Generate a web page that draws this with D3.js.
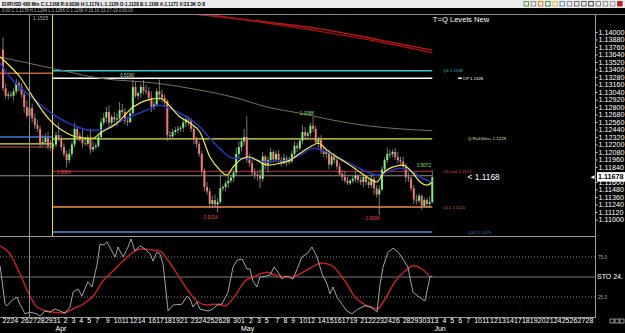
<!DOCTYPE html>
<html><head><meta charset="utf-8">
<script src="https://cdn.jsdelivr.net/npm/d3@7"></script>
<style>
html,body{margin:0;padding:0;background:#000;overflow:hidden}
svg{display:block;font-family:"Liberation Sans",Arial,sans-serif}
</style></head>
<body><div id="chart"></div>
<script>
const WIDTH = 625, HEIGHT = 333;

// ---- data (EURUSD 480 min bars, 22 Mar - 31 May) ----
const open = [1.1372,1.1310,1.1298, 1.1300, 1.1298,1.1305,1.1318, 1.1313,1.1300,1.1280, 1.1266,1.1278,1.1262,
  1.1251,1.1245,1.1222, 1.1224,1.1230,1.1218, 1.1217, 1.1220,1.1235,1.1230, 1.1216,1.1205,1.1195,
  1.1205,1.1220,1.1245, 1.1234,1.1228,1.1222, 1.1221,1.1230,1.1212, 1.1216, 1.1218,1.1232,1.1255,
  1.1263,1.1272,1.1255, 1.1264,1.1260,1.1262, 1.1275,1.1272,1.1258, 1.1256,1.1270,1.1312, 1.1298,
  1.1302,1.1312,1.1306, 1.1305,1.1295,1.1280, 1.1284,1.1305,1.1300, 1.1295,1.1290,1.1235,
  1.1233,1.1240,1.1243, 1.1245, 1.1247,1.1255,1.1260, 1.1259,1.1245,1.1228, 1.1221,1.1205,1.1178,
  1.1152,1.1145,1.1125, 1.1131,1.1124,1.1128, 1.1150, 1.1152,1.1158,1.1162, 1.1167,1.1175,1.1205,
  1.1216,1.1225,1.1232, 1.1196,1.1190,1.1175, 1.1172,1.1170,1.1165, 1.1201, 1.1188,1.1195,1.1208,
  1.1196,1.1205,1.1195, 1.1190,1.1198,1.1192, 1.1193,1.1205,1.1218, 1.1214,1.1226,1.1240, 1.1234,
  1.1238,1.1250,1.1245, 1.1223,1.1228,1.1210, 1.1205,1.1208,1.1188, 1.1201,1.1195,1.1185,
  1.1173,1.1168,1.1162, 1.1158, 1.1162,1.1165,1.1170, 1.1163,1.1160,1.1168, 1.1160,1.1155,1.1165,
  1.1150,1.1140,1.1148, 1.1180,1.1195,1.1205, 1.1205, 1.1208,1.1200,1.1195, 1.1193,1.1185,1.1168,
  1.1166,1.1150,1.1132, 1.1130,1.1138,1.1122, 1.1131,1.1125,1.1128];
const high = [1.1392,1.1318,1.1305, 1.1305, 1.1310,1.1325,1.1322, 1.1318,1.1306,1.1290, 1.1284,1.1285,1.1270,
  1.1260,1.1250,1.1235, 1.1238,1.1240,1.1228, 1.1222, 1.1240,1.1255,1.1235, 1.1222,1.1210,1.1212,
  1.1225,1.1255,1.1250, 1.1240,1.1245,1.1232, 1.1235,1.1245,1.1225, 1.1222, 1.1235,1.1262,1.1270,
  1.1280,1.1282,1.1268, 1.1272,1.1270,1.1288, 1.1285,1.1278,1.1265, 1.1275,1.1323,1.1320, 1.1305,
  1.1318,1.1323,1.1315, 1.1312,1.1305,1.1290, 1.1310,1.1324,1.1308, 1.1300,1.1292,1.1242,
  1.1245,1.1248,1.1250, 1.1250, 1.1262,1.1265,1.1265, 1.1262,1.1250,1.1232, 1.1225,1.1210,1.1182,
  1.1160,1.1150,1.1138, 1.1140,1.1135,1.1173, 1.1155, 1.1162,1.1170,1.1172, 1.1180,1.1215,1.1225,
  1.1230,1.1245,1.1265, 1.1205,1.1195,1.1182, 1.1178,1.1180,1.1208, 1.1203, 1.1200,1.1215,1.1212,
  1.1210,1.1212,1.1200, 1.1205,1.1202,1.1200, 1.1210,1.1225,1.1222, 1.1230,1.1251,1.1248, 1.1240,
  1.1255,1.1264,1.1250, 1.1232,1.1235,1.1215, 1.1212,1.1212,1.1205, 1.1206,1.1200,1.1190,
  1.1180,1.1178,1.1168, 1.1165, 1.1170,1.1178,1.1173, 1.1168,1.1172,1.1170, 1.1165,1.1172,1.1168,
  1.1155,1.1155,1.1185, 1.1200,1.1215,1.1212, 1.1212, 1.1214,1.1208,1.1200, 1.1200,1.1190,1.1175,
  1.1170,1.1155,1.1140, 1.1142,1.1140,1.1135, 1.1135,1.1138,1.1179];
const low = [1.1305,1.1293,1.1292, 1.1295, 1.1290,1.1300,1.1305, 1.1295,1.1270,1.1262, 1.1266,1.1255,1.1245,
  1.1240,1.1215,1.1218, 1.1220,1.1212,1.1210, 1.1212, 1.1215,1.1225,1.1210, 1.1200,1.1183,1.1190,
  1.1200,1.1215,1.1228, 1.1225,1.1215,1.1218, 1.1218,1.1205,1.1208, 1.1212, 1.1215,1.1228,1.1250,
  1.1255,1.1248,1.1250, 1.1255,1.1250,1.1258, 1.1268,1.1252,1.1250, 1.1254,1.1268,1.1295, 1.1292,
  1.1295,1.1300,1.1300, 1.1290,1.1272,1.1275, 1.1282,1.1290,1.1288, 1.1280,1.1226,1.1228,
  1.1230,1.1235,1.1238, 1.1240, 1.1240,1.1248,1.1250, 1.1240,1.1220,1.1215, 1.1200,1.1172,1.1145,
  1.1140,1.1118,1.1120, 1.1120,1.1111,1.1125, 1.1145, 1.1145,1.1150,1.1158, 1.1160,1.1170,1.1198,
  1.1210,1.1218,1.1190, 1.1185,1.1170,1.1165, 1.1162,1.1150,1.1160, 1.1180, 1.1175,1.1190,1.1192,
  1.1192,1.1188,1.1185, 1.1188,1.1185,1.1188, 1.1190,1.1200,1.1208, 1.1210,1.1220,1.1228, 1.1230,
  1.1232,1.1240,1.1220, 1.1215,1.1205,1.1200, 1.1198,1.1180,1.1185, 1.1190,1.1180,1.1170,
  1.1162,1.1158,1.1155, 1.1155, 1.1158,1.1160,1.1158, 1.1155,1.1152,1.1155, 1.1150,1.1150,1.1140,
  1.1135,1.1107,1.1145, 1.1175,1.1190,1.1198, 1.1200, 1.1195,1.1190,1.1188, 1.1180,1.1160,1.1160,
  1.1145,1.1125,1.1124, 1.1126,1.1116,1.1120, 1.1120,1.1120,1.1126];
const close = [1.1310,1.1298,1.1300, 1.1298, 1.1305,1.1318,1.1313, 1.1300,1.1280,1.1266, 1.1278,1.1262,1.1251,
  1.1245,1.1222,1.1224, 1.1230,1.1218,1.1217, 1.1220, 1.1235,1.1230,1.1216, 1.1205,1.1195,1.1205,
  1.1220,1.1245,1.1234, 1.1228,1.1222,1.1221, 1.1230,1.1212,1.1216, 1.1218, 1.1232,1.1255,1.1263,
  1.1272,1.1255,1.1264, 1.1260,1.1262,1.1275, 1.1272,1.1258,1.1256, 1.1270,1.1312,1.1298, 1.1302,
  1.1312,1.1306,1.1305, 1.1295,1.1280,1.1284, 1.1305,1.1300,1.1295, 1.1290,1.1235,1.1233,
  1.1240,1.1243,1.1245, 1.1247, 1.1255,1.1260,1.1259, 1.1245,1.1228,1.1221, 1.1205,1.1178,1.1152,
  1.1145,1.1125,1.1131, 1.1124,1.1128,1.1150, 1.1152, 1.1158,1.1162,1.1167, 1.1175,1.1205,1.1216,
  1.1225,1.1232,1.1196, 1.1190,1.1175,1.1172, 1.1170,1.1165,1.1201, 1.1188, 1.1195,1.1208,1.1196,
  1.1205,1.1195,1.1190, 1.1198,1.1192,1.1193, 1.1205,1.1218,1.1214, 1.1226,1.1240,1.1234, 1.1238,
  1.1250,1.1245,1.1223, 1.1228,1.1210,1.1205, 1.1208,1.1188,1.1201, 1.1195,1.1185,1.1173,
  1.1168,1.1162,1.1158, 1.1162, 1.1165,1.1170,1.1163, 1.1160,1.1168,1.1160, 1.1155,1.1165,1.1150,
  1.1140,1.1148,1.1180, 1.1195,1.1205,1.1205, 1.1208, 1.1200,1.1195,1.1193, 1.1185,1.1168,1.1166,
  1.1150,1.1132,1.1130, 1.1138,1.1122,1.1131, 1.1125,1.1128,1.1168];

// moving averages: [bar, price]
const maFast = [[-1.1,1.1360],[1.5,1.1350],[6.4,1.1328],[11.3,1.1296],[17.7,1.1259],[24.2,1.1238],[27.9,1.1232],
  [34,1.1230],[36.6,1.1238],[43,1.1254],[49.1,1.1280],[54.3,1.1291],[59.2,1.1294],[61.9,1.1286],[66.8,1.1264],
  [70.6,1.1254],[74.3,1.1240],[78.1,1.1200],[81.9,1.1179],[84.5,1.1171],[86.8,1.1184],[90.6,1.1198],[93.2,1.1200],
  [95.8,1.1195],[99.6,1.1187],[104.5,1.1190],[108.3,1.1195],[112.1,1.1206],[115.8,1.1216],[118.9,1.1222],
  [122.3,1.1211],[126,1.1200],[129.8,1.1190],[133.6,1.1179],[137.4,1.1168],[141.1,1.1160],[143.4,1.1174],
  [147.2,1.1184],[150.9,1.1187],[154.7,1.1174],[157.4,1.1160],[160,1.1155],[162,1.1160]];
const maSlow = [[-1.1,1.1350],[2.6,1.1328],[9.1,1.1302],[15.1,1.1280],[20.4,1.1264],[26.4,1.1251],[32.8,1.1243],
  [36.6,1.1243],[43,1.1254],[47.9,1.1264],[54.3,1.1275],[59.2,1.1283],[64.2,1.1275],[69.4,1.1264],[74.3,1.1248],
  [78.1,1.1230],[81.9,1.1213],[86.8,1.1198],[92.1,1.1198],[99.6,1.1192],[107.2,1.1195],[112.1,1.1203],
  [117,1.1214],[122.3,1.1208],[127.2,1.1198],[132.1,1.1187],[137.4,1.1176],[141.1,1.1171],[144.9,1.1176],
  [149.8,1.1182],[154.7,1.1176],[157.4,1.1168],[162,1.1160]];
const maLong = [[-1.1,1.1360],[18.5,1.1342],[36.6,1.1326],[58.1,1.1318],[74.3,1.1307],[86.8,1.1296],[99.6,1.1280],
  [112.1,1.1270],[124.5,1.1259],[137.4,1.1250],[149.8,1.1245],[162,1.1242]];
const maRedA = [[64.9,1.1432],[93.2,1.1419],[119.6,1.1405],[142.3,1.1387],[162,1.1371]];
const maRedB = [[76.2,1.1429],[97,1.1416],[119.6,1.1401],[142.3,1.1384],[162,1.1367]];

// stochastic: [bar, value]
const stochK = [[-1.1,64],[0.8,16],[1.5,14],[3.4,21],[5.3,25],[6.4,16],[8.3,4],[10.2,6],[12.8,4],[14,1],[15.8,7.5],
  [17.7,6],[19.6,10],[21.5,7.5],[23.4,5],[25.3,12.5],[26.4,31],[28.3,35],[29.8,26],[32,44],[33.6,37.5],[35.5,66],
  [36.6,91],[38.1,90],[39.2,94],[41.1,82.5],[42.3,75],[43.4,87.5],[45.3,75],[47.2,87.5],[48.3,97.5],[49.8,82.5],
  [51.7,89],[53.6,85],[55.5,79],[56.6,70],[58.1,81],[59.2,79],[60.4,66],[61.9,20],[62.3,7.5],[64.2,15],[67.5,16],
  [69.4,26],[70.6,22.5],[71.7,12.5],[73.2,19],[74.3,10],[77.4,7.5],[79.2,10],[81.1,16],[82.6,16],[84.9,31],
  [86.8,62.5],[88.3,71],[90.2,72.5],[92.1,60],[93.2,60],[94.3,45],[95.8,37.5],[97,50],[98.9,51],[100.8,52.5],
  [102.3,62.5],[103.8,56],[105.3,47.5],[106.4,51],[107.9,50],[109.4,47.5],[111.3,62.5],[112.8,75],[114.7,79],
  [116.6,87.5],[118.5,75],[120.4,54],[122.3,41],[123.4,29],[124.5,37.5],[126,25],[127.9,16],[129.8,7.5],[131.7,4],
  [134,10],[136.6,14],[139.2,12.5],[141.1,6],[142.3,41],[143.4,62.5],[145.3,81],[147.2,86],[149.1,81],[150.9,72.5],
  [152.8,62.5],[154.7,31],[156.6,26],[159.2,20],[161.1,50],[162,51]];
const stochD = [[-1.1,89],[2.6,79],[6.4,54],[10.2,26],[12.8,12.5],[16.6,7.5],[22.6,5],[26.4,10],[30.2,16],[34,26],
  [37.7,45],[41.5,57.5],[45.3,70],[49.1,81],[51.7,85],[59.2,82.5],[61.9,72.5],[65.7,54],[69.4,35],[73.2,20],[77,15],
  [80,16],[83.8,14],[87.5,26],[91.3,45],[95.1,51],[99.6,56],[103.8,51],[109,50],[114,57.5],[120.4,67.5],[124.2,64],
  [129,45],[132.8,25],[137.4,14],[141.1,10],[144.2,22.5],[147.9,44],[151.7,57.5],[154.7,64],[158.1,60],[161.1,50]];

// quarter levels
const levelNames = ["Q4 1.1338", "CP 1.1326", "Q Ru100er+ 1.1229", "U3 Low 1.1177", "QL2 1.1120", "QS1 1.1079"];
const levelPrices = [1.1338, 1.1326, 1.1229, 1.1177, 1.1120, 1.1080];
const prevLevelPrices = [1.1334, 1.1232, 1.1221, 1.1216];
const pivotPrice = 1.1170;

// fractal notes
const noteBars = [44.2, 19.2, 74.7, 112, 135.8, 156.2];
const notePrices = [1.1331, 1.1176, 1.1104, 1.1270, 1.1101, 1.1186];
const noteTexts = ["0.5190", "- 0.8054", "- 0.5014", "1.0088", "- 0.9096", "0.5072"];

// ticks (1.1172 sits under the current price box)
const priceTicks = [1.1400,1.1388,1.1376,1.1364,1.1352,1.1340,1.1328,1.1316,1.1304,1.1292,1.1280,1.1268,1.1256,
  1.1244,1.1232,1.1220,1.1208,1.1196,1.1184,1.1160,1.1148,1.1136,1.1124,1.1112,1.1100];
const dayBars = [0,3,7,10,13,16,19, 23,26,29,32,35, 39,42,45,48,51, 55,58,61,64,67, 71,74,77,80,83, 87,90,93,96,99,
  103,106,109,112,115, 119,122,125,128,131, 135,138,141,144,147, 151,154,157,160, 163,166,169,172,175,
  178,181,184,187,190, 193,196,199,202,205, 208,211,214,217,220];
const dayLabels = ["22","24","26","27","28","29","31", "2","3","4","5","7", "9","10","11","12","14",
  "16","17","18","19","21", "23","24","25","26","28", "30","1","2","3","5", "7","8","9","10","12",
  "14","15","16","17","19", "21","22","23","24","26", "28","29","30","31", "3","4","5","6","7",
  "10","11","12","13","14", "17","18","19","20","21", "24","25","26","27","28"];
const monthBars = [20, 90, 163];
const monthLabels = ["Apr", "May", "Jun"];
const cursorBar = 10, quarterBar = 18.7, lastPrice = 1.11678;

// ---- styles ----
const levelColors = ["#3cc4d4", "#ffffff", "#e8e83c", "#8c2c2c", "#f08a50", "#4a90e4"];
const levelLabelColors = ["#3cb4c4", "#ffffff", "#e0e0a0", "#e04040", "#d05a40", "#3a70c0"];
const levelLabelAt = [166, 173.6, 175.5, 166, 166, 175.5];
const prevLevelColors = ["#c06838", "#3878d8", "#e8e83c", "#7a3a2a"];
const noteColors = ["#b8e0b8", "#e04848", "#e04848", "#80e080", "#e04848", "#80e080"];

const svg = d3.select("#chart").append("svg").attr("width", WIDTH).attr("height", HEIGHT);
svg.append("rect").attr("width", WIDTH).attr("height", HEIGHT).attr("fill", "#000");

const x = d3.scaleLinear().domain([0, 162]).range([3, 432.3]);
const y = d3.scaleLinear().domain([1.11, 1.14]).range([219.5, 32]);
const ys = d3.scaleLinear().domain([0, 100]).range([317, 237]);
const AX = 595.5;

const defs = svg.append("defs");
defs.append("clipPath").attr("id", "cm").append("rect").attr("x", 0).attr("y", 15).attr("width", AX).attr("height", 221);
defs.append("clipPath").attr("id", "cs").append("rect").attr("x", 0).attr("y", 237).attr("width", AX).attr("height", 80);

// header
svg.append("rect").attr("width", WIDTH).attr("height", 8).attr("fill", "#ececec");
svg.append("text").attr("x", 2).attr("y", 6.2).attr("font-size", 5.4).attr("font-weight", "bold")
  .attr("textLength", 203).attr("lengthAdjust", "spacingAndGlyphs")
  .text("EURUSD 480 Min C:1.1168 R:0.0039 H:1.1179 L:1.1126 O:1.1128 B:1.1168 A:1.1171 V:33.3K O:8");
svg.append("text").attr("x", 2).attr("y", 12.4).attr("font-size", 5).attr("fill", "#bbb")
  .attr("textLength", 131).attr("lengthAdjust", "spacingAndGlyphs")
  .text("0:00 C:1.1278 H:1.1284 L:1.1266 O:1.1266 V:16.1K 03-27-19 0:00:00");
const iconCols = ["#3a9a3a","#888","#d08020","#3a8a3a","#e0c020","#4a90c0","#888","#666","#555","#333","#777","#888","#999","#c02020"];
iconCols.forEach((c, i) => {
  svg.append("rect").attr("x", 524 + i * 7.2).attr("y", 1.5).attr("width", 4.5).attr("height", 4.5)
    .attr("fill", i === iconCols.length - 1 ? c : "none").attr("stroke", c).attr("stroke-width", 0.9);
});
svg.append("line").attr("x1", 0).attr("x2", WIDTH).attr("y1", 14.5).attr("y2", 14.5).attr("stroke", "#8a8a8a");
svg.append("text").attr("x", 461).attr("y", 21.5).attr("text-anchor", "middle").attr("font-size", 7.6)
  .attr("fill", "#fff").text("T=Q Levels New");

// main panel
const gm = svg.append("g").attr("clip-path", "url(#cm)");
const line = d3.line().x(d => x(d[0])).y(d => y(d[1])).curve(d3.curveMonotoneX);

gm.append("text").attr("x", 33).attr("y", 19.5).attr("font-size", 5).attr("fill", "#aaa").text("1.1525");

// previous quarter levels (left of quarter start)
prevLevelPrices.forEach((p, i) => {
  gm.append("line").attr("x1", 0).attr("x2", x(quarterBar)).attr("y1", y(p)).attr("y2", y(p))
    .attr("stroke", prevLevelColors[i]).attr("stroke-width", 1.4);
});
gm.append("line").attr("x1", 0).attr("x2", x(162)).attr("y1", y(pivotPrice)).attr("y2", y(pivotPrice))
  .attr("stroke", "#9a8f80").attr("stroke-width", 1);

levelPrices.forEach((p, i) => {
  gm.append("line").attr("x1", x(quarterBar)).attr("x2", x(162)).attr("y1", y(p)).attr("y2", y(p))
    .attr("stroke", levelColors[i]).attr("stroke-width", 1.4);
  gm.append("text").attr("x", x(levelLabelAt[i])).attr("y", y(p)).attr("dy", "0.35em")
    .attr("font-size", 4.3).attr("fill", levelLabelColors[i]).text(levelNames[i]);
});
gm.append("rect").attr("x", x(171.8)).attr("y", y(levelPrices[1]) - 0.8).attr("width", 3.5).attr("height", 1.6).attr("fill", "#fff");

// quarter start
gm.append("line").attr("x1", x(quarterBar)).attr("x2", x(quarterBar)).attr("y1", 15).attr("y2", 236)
  .attr("stroke", "#e8e83c").attr("stroke-width", 1);

// moving averages
gm.append("path").datum(maLong).attr("fill", "none").attr("stroke", "#7a7058").attr("stroke-width", 1).attr("d", line);
gm.append("path").datum(maRedA).attr("fill", "none").attr("stroke", "#c01818").attr("stroke-width", 1.5).attr("d", line);
gm.append("path").datum(maRedB).attr("fill", "none").attr("stroke", "#a01010").attr("stroke-width", 1.5).attr("d", line);

// candles
const bars = d3.range(close.length);
gm.selectAll(".wick").data(bars).join("line").attr("class", "wick")
  .attr("x1", i => x(i)).attr("x2", i => x(i))
  .attr("y1", i => y(high[i])).attr("y2", i => y(low[i]))
  .attr("stroke", "#a8a8a8").attr("stroke-width", 0.7);
gm.selectAll(".body").data(bars).join("rect").attr("class", "body")
  .attr("x", i => x(i) - 1).attr("width", 2)
  .attr("y", i => y(Math.max(open[i], close[i])))
  .attr("height", i => Math.max(1, Math.abs(y(open[i]) - y(close[i]))))
  .attr("fill", i => close[i] >= open[i] ? "#7fec7f" : "#f07878");

gm.append("path").datum(maSlow).attr("fill", "none").attr("stroke", "#2634c0").attr("stroke-width", 1.5).attr("d", line);
gm.append("path").datum(maFast).attr("fill", "none").attr("stroke", "#f4f040").attr("stroke-width", 1.2).attr("d", line);

noteBars.forEach((b, i) => {
  gm.append("text").attr("x", x(b)).attr("y", y(notePrices[i])).attr("dy", "0.35em")
    .attr("font-size", 4.6).attr("fill", noteColors[i]).text(noteTexts[i]);
});
gm.append("text").attr("x", x(175.3)).attr("y", y(1.1168)).attr("dy", "0.4em").attr("font-size", 8.4)
  .attr("fill", "#fff").text("< 1.1168");

// stochastic panel
const gs = svg.append("g").attr("clip-path", "url(#cs)");
gs.append("line").attr("x1", 0).attr("x2", AX).attr("y1", ys(75)).attr("y2", ys(75)).attr("stroke", "#808080").attr("stroke-dasharray", "1,2");
gs.append("line").attr("x1", 0).attr("x2", AX).attr("y1", ys(50)).attr("y2", ys(50)).attr("stroke", "#777");
gs.append("line").attr("x1", 0).attr("x2", AX).attr("y1", ys(25)).attr("y2", ys(25)).attr("stroke", "#808080").attr("stroke-dasharray", "1,2");
const sLineK = d3.line().x(d => x(d[0])).y(d => ys(d[1]));
const sLineD = d3.line().x(d => x(d[0])).y(d => ys(d[1])).curve(d3.curveMonotoneX);
gs.append("path").datum(stochD).attr("fill", "none").attr("stroke", "#c02020").attr("stroke-width", 1.5).attr("d", sLineD);
gs.append("path").datum(stochK).attr("fill", "none").attr("stroke", "#b4b4b4").attr("stroke-width", 0.9).attr("d", sLineK);

svg.append("text").attr("x", 598).attr("y", ys(75)).attr("dy", "0.35em").attr("font-size", 4.6).attr("fill", "#aaa").text("75.0");
svg.append("text").attr("x", 598).attr("y", ys(25)).attr("dy", "0.35em").attr("font-size", 4.6).attr("fill", "#aaa").text("25.0");
svg.append("text").attr("x", 597).attr("y", ys(50)).attr("dy", "0.35em").attr("font-size", 7).attr("fill", "#fff").text("STO 24.");

// frame lines
svg.append("line").attr("x1", x(cursorBar)).attr("x2", x(cursorBar)).attr("y1", 15).attr("y2", 317).attr("stroke", "#909090");
svg.append("line").attr("x1", 0).attr("x2", AX).attr("y1", 236.5).attr("y2", 236.5).attr("stroke", "#9a9a9a");
svg.append("line").attr("x1", 0).attr("x2", AX).attr("y1", 317.5).attr("y2", 317.5).attr("stroke", "#9a9a9a");
svg.append("line").attr("x1", AX).attr("x2", AX).attr("y1", 15).attr("y2", 318).attr("stroke", "#9a9a9a");

// price axis
const pa = svg.append("g").attr("transform", `translate(${AX},0)`)
  .call(d3.axisRight(y).tickValues(priceTicks).tickFormat(d => d.toFixed(5)).tickSize(2).tickPadding(1));
pa.select(".domain").remove();
pa.selectAll("line").attr("stroke", "#ccc");
pa.selectAll("text").attr("fill", "#fff").attr("font-size", 7.2).attr("font-family", "Liberation Sans, Arial, sans-serif");

// current price marker
svg.append("rect").attr("x", 597).attr("y", y(lastPrice) - 5).attr("width", 28).attr("height", 9.5).attr("fill", "#fff");
svg.append("text").attr("x", 598).attr("y", y(lastPrice)).attr("dy", "0.3em").attr("font-size", 7.2)
  .attr("font-weight", "bold").attr("fill", "#000").text(lastPrice.toFixed(5));
svg.append("path").attr("d", `M${AX - 5},${y(lastPrice)} l4,-2 v4 z`).attr("fill", "#fff");

// time axis
const ta = svg.append("g").attr("transform", "translate(0,318)")
  .call(d3.axisBottom(x).tickValues(dayBars).tickFormat((d, i) => dayLabels[i]).tickSize(0).tickPadding(0.5));
ta.select(".domain").remove();
ta.selectAll("text").attr("text-anchor", "start").attr("dx", -1).attr("fill", "#fff")
  .attr("font-size", 7).attr("font-family", "Liberation Sans, Arial, sans-serif");
const ma = svg.append("g").attr("transform", "translate(0,326)")
  .call(d3.axisBottom(x).tickValues(monthBars).tickFormat((d, i) => monthLabels[i]).tickSize(0).tickPadding(0));
ma.select(".domain").remove();
ma.selectAll("text").attr("text-anchor", "start").attr("dx", -1).attr("fill", "#fff")
  .attr("font-size", 7).attr("font-family", "Liberation Sans, Arial, sans-serif");

[0, 1, 2].forEach(i => {
  svg.append("rect").attr("x", 610 + i * 5).attr("y", 319).attr("width", 4).attr("height", 4)
    .attr("fill", "none").attr("stroke", "#ccc").attr("stroke-width", 0.7);
});
</script>
</body></html>
